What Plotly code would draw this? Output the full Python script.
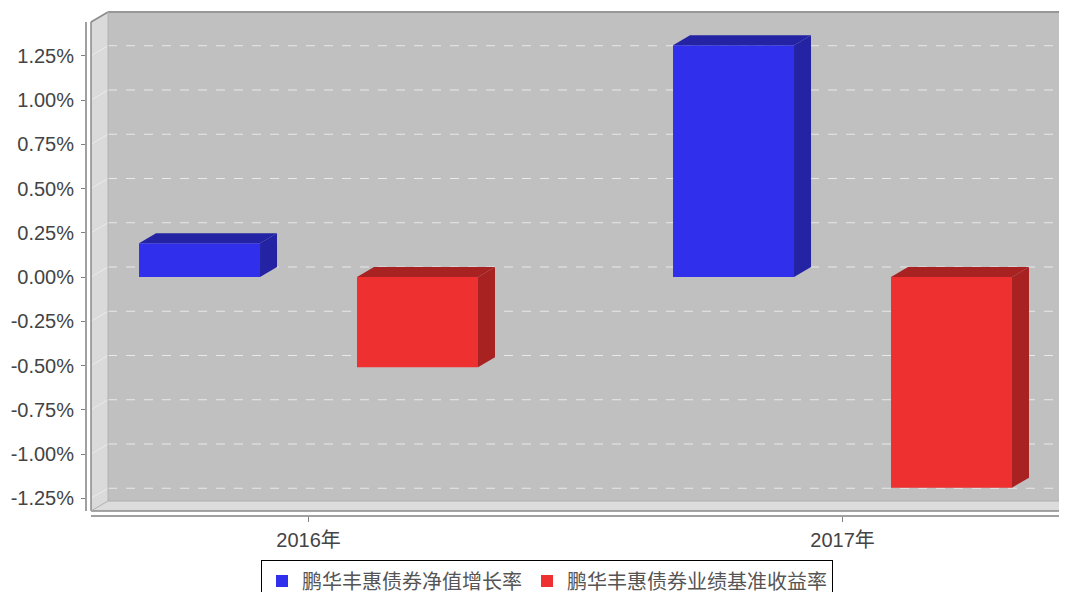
import plotly.graph_objects as go

# ---------------- data ----------------
categories = ["2016年", "2017年"]
series_names = ["鹏华丰惠债券净值增长率", "鹏华丰惠债券业绩基准收益率"]
nav_growth = [0.19, 1.31]          # %
benchmark_return = [-0.51, -1.19]  # %
y_tick_values = [-1.25, -1.0, -0.75, -0.5, -0.25, 0.0, 0.25, 0.5, 0.75, 1.0, 1.25]
y_tick_labels = ["-1.25%", "-1.00%", "-0.75%", "-0.50%", "-0.25%", "0.00%",
                 "0.25%", "0.50%", "0.75%", "1.00%", "1.25%"]

# ---------------- styling / geometry ----------------
front_colors = ["#3030EC", "#EE3030"]
dark_colors = ["#2323A4", "#A82222"]
bar_width = 0.2266
bar_offsets = [-0.3174, 0.0908]
dx = 17 / 534.0     # 3D depth, x units
dy = 10 / 177.0     # 3D depth, y units

x_range = [-0.4167, 1.4204]
y_range = [-1.3503, 1.5028]
xL = -0.4073        # front-left edge of the chart box
xFR = 1.411         # front-right edge of floor
yT = 1.4407         # front top
yB = -1.322         # front floor
FAR = 3.0

fig = go.Figure()

series_values = [nav_growth, benchmark_return]
xpos = list(range(len(categories)))

for i, vals in enumerate(series_values):
    fig.add_trace(go.Bar(
        x=xpos, y=vals, base=0, width=bar_width, offset=bar_offsets[i],
        name=series_names[i], marker=dict(color=front_colors[i], line=dict(width=0)),
        hoverinfo="skip"))

for i, vals in enumerate(series_values):
    for j, v in enumerate(vals):
        x0 = xpos[j] + bar_offsets[i]
        x1 = x0 + bar_width
        top = max(v, 0)
        bot = min(v, 0)
        # top face
        fig.add_trace(go.Scatter(
            x=[x0, x0 + dx, x1 + dx, x1, x0],
            y=[top, top + dy, top + dy, top, top],
            fill="toself", mode="lines", line=dict(width=0, color=dark_colors[i]),
            fillcolor=dark_colors[i], showlegend=False, hoverinfo="skip"))
        # side face
        fig.add_trace(go.Scatter(
            x=[x1, x1 + dx, x1 + dx, x1, x1],
            y=[bot, bot + dy, top + dy, top, bot],
            fill="toself", mode="lines", line=dict(width=0, color=dark_colors[i]),
            fillcolor=dark_colors[i], showlegend=False, hoverinfo="skip"))

shapes = []
# back wall
shapes.append(dict(type="rect", xref="x", yref="y", x0=xL + dx, x1=FAR,
                   y0=yB + dy, y1=FAR, fillcolor="#C0C0C0", line=dict(width=0), layer="below"))
# left wall
shapes.append(dict(type="path", xref="x", yref="y",
                   path=f"M{xL},{yT} L{xL+dx},{yT+dy} L{xL+dx},{yB+dy} L{xL},{yB} Z",
                   fillcolor="#DADADA", line=dict(width=0), layer="below"))
# floor
shapes.append(dict(type="path", xref="x", yref="y",
                   path=f"M{xL},{yB} L{xL+dx},{yB+dy} L{xFR+dx},{yB+dy} L{xFR},{yB} Z",
                   fillcolor="#DCDCDC", line=dict(width=0), layer="below"))
# gridlines on back wall and left wall
for v in y_tick_values:
    shapes.append(dict(type="line", xref="x", yref="y", x0=xL + dx, x1=FAR,
                       y0=v + dy, y1=v + dy,
                       line=dict(color="rgba(240,240,240,0.85)", width=1, dash="dash"),
                       layer="below"))
    shapes.append(dict(type="line", xref="x", yref="y", x0=xL, x1=xL + dx,
                       y0=v, y1=v + dy,
                       line=dict(color="rgba(245,245,245,0.6)", width=1),
                       layer="below"))
# edges
edge = dict(color="#8A8A8A", width=1.5)
soft = dict(color="#B0B0B0", width=1)
shapes += [
    dict(type="line", xref="x", yref="y", x0=xL + dx, x1=FAR, y0=yT + dy, y1=yT + dy, line=edge, layer="below"),
    dict(type="line", xref="x", yref="y", x0=xL, x1=xL + dx, y0=yT, y1=yT + dy, line=edge, layer="below"),
    dict(type="line", xref="x", yref="y", x0=xL, x1=xL, y0=yT, y1=yB, line=edge, layer="below"),
    dict(type="line", xref="x", yref="y", x0=xL, x1=xFR, y0=yB, y1=yB, line=edge, layer="below"),
    dict(type="line", xref="x", yref="y", x0=xFR, x1=xFR + dx, y0=yB, y1=yB + dy, line=edge, layer="below"),
    dict(type="line", xref="x", yref="y", x0=xL + dx, x1=xL + dx, y0=yB + dy, y1=yT + dy, line=soft, layer="below"),
    dict(type="line", xref="x", yref="y", x0=xL + dx, x1=FAR, y0=yB + dy, y1=yB + dy, line=soft, layer="below"),
    dict(type="line", xref="x", yref="y", x0=xL, x1=xL + dx, y0=yB, y1=yB + dy, line=soft, layer="below"),
]
# axis lines
axis_line = dict(color="#808080", width=1.5)
shapes.append(dict(type="line", xref="paper", yref="y", x0=0, x1=0, y0=yB, y1=yT, line=axis_line))
shapes.append(dict(type="line", xref="x", yref="paper", x0=xL, x1=xFR, y0=0, y1=0, line=axis_line))

tick_font = dict(family="Liberation Sans, Noto Sans CJK SC, sans-serif", size=20, color="#444444")

fig.update_layout(
    width=1059, height=584,
    margin=dict(l=78, r=0, t=3, b=76, autoexpand=False),
    paper_bgcolor="white", plot_bgcolor="white",
    barmode="overlay",
    shapes=shapes,
    showlegend=True,
    legend=dict(orientation="h", x=0.1784, xanchor="left", y=-0.088, yanchor="top",
                bordercolor="black", borderwidth=1, bgcolor="white",
                font=dict(family="Noto Sans CJK SC, sans-serif", size=20, color="#555555"),
                itemwidth=30, tracegroupgap=0),
    xaxis=dict(range=x_range, tickmode="array", tickvals=xpos, ticktext=categories,
               showgrid=False, zeroline=False, showline=False,
               ticks="outside", ticklen=5, tickcolor="#808080", ticklabelstandoff=1,
               tickfont=tick_font, fixedrange=True),
    yaxis=dict(range=y_range, tickmode="array", tickvals=y_tick_values, ticktext=y_tick_labels,
               showgrid=False, zeroline=False, showline=False,
               ticks="outside", ticklen=4, tickcolor="#808080", ticklabelstandoff=3,
               tickfont=tick_font, fixedrange=True),
)

fig.write_html("out.html")
